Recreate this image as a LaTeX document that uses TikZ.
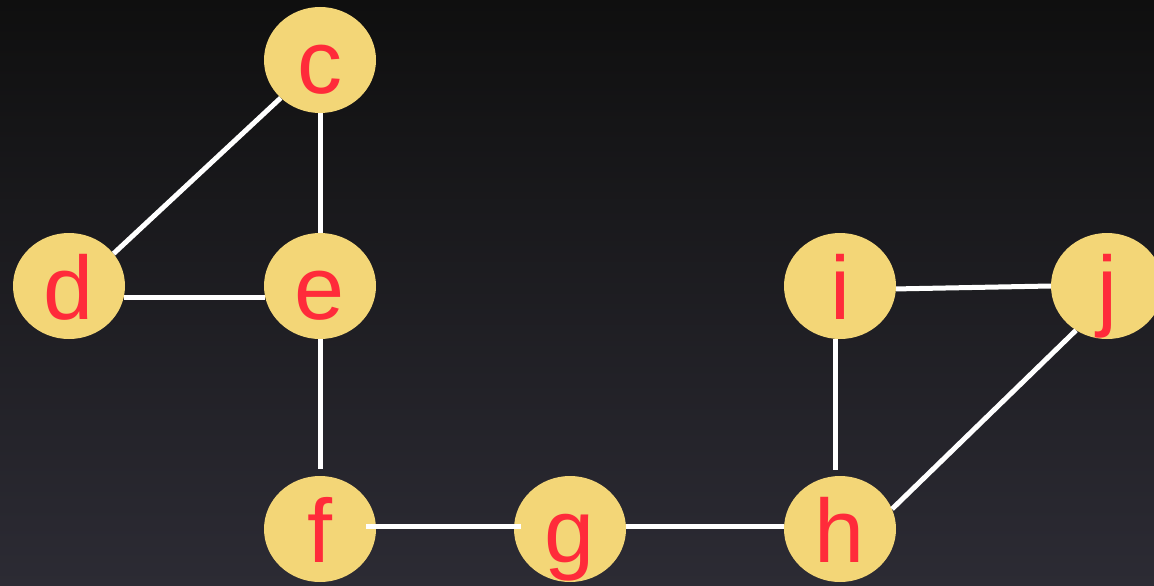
\documentclass[tikz,border=0pt]{standalone}
\usepackage{fontspec}
\setmainfont{Liberation Sans}
\usetikzlibrary{shapes.geometric}
\definecolor{nodefill}{HTML}{F3D677}
\definecolor{labelred}{HTML}{FF2B3A}
\definecolor{bgtop}{HTML}{0F0F0F}
\definecolor{bgbot}{HTML}{2C2B34}
\tikzset{
  vert/.style={ellipse, fill=nodefill, minimum width=112pt, minimum height=106pt,
    inner sep=0pt, text=labelred, font=\fontsize{90}{92}\selectfont,
    text height=66pt, text depth=0pt},
  edge/.style={draw=white, line width=5pt}
}
\begin{document}
\begin{tikzpicture}[x=1pt,y=-1pt]
\useasboundingbox (0,0) rectangle (1154,586);
\clip (0,0) rectangle (1154,586);
\shade[top color=bgtop, bottom color=bgbot] (0,0) rectangle (1154,586);
\node[vert] (c) at (320,60) {c};
\node[vert] (d) at (69,286) {d};
\node[vert] (e) at (320,286) {e};
\node[vert] (f) at (320,529) {f};
\node[vert] (g) at (570,529) {g};
\node[vert] (h) at (840,529) {h};
\node[vert] (i) at (840,286) {i};
\node[vert] (j) at (1107,286) {j};
\draw[edge] (c.224) -- (d.36);
\draw[edge] (c.south) -- (e.north);
\draw[edge] (d.-12) -- (e.192);
\draw[edge, shorten >=7pt] (e.south) -- (f.north);
\draw[edge] ([shift={(-10pt,3pt)}]f.east) -- ([shift={(7pt,3pt)}]g.west);
\draw[edge] (g.3) -- (h.177);
\draw[edge, shorten >=6pt] (i.265) -- (h.95);
\draw[edge] (i.-3) -- (j.west);
\draw[edge] (j.235) -- (h.21);
\end{tikzpicture}
\end{document}
